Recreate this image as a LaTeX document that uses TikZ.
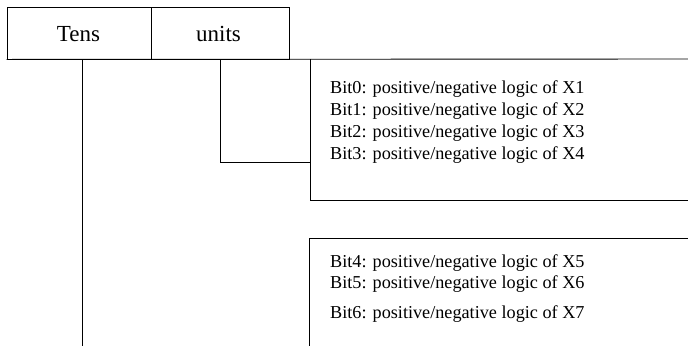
\documentclass[tikz,border=0pt]{standalone}
\usepackage{fontspec}
\setmainfont{Liberation Serif}
\begin{document}
\begin{tikzpicture}[x=1pt,y=-1pt,
  line/.style={draw=black,line width=0.9pt},
  cell/.style={line,minimum height=52pt,inner sep=0pt},
  head/.style={anchor=base,inner sep=0pt,font=\fontsize{23}{26}\selectfont},
  bit/.style={anchor=base west,inner sep=0pt,font=\fontsize{18.2}{21}\selectfont}]
\useasboundingbox (0,0) rectangle (688,346);
% header cells
\node[cell,minimum width=144pt] (tens) at (79,33) {};
\node[cell,minimum width=138pt] (units) at (220,33) {};
\node[head] (tenstxt) at (78.5,41) {Tens};
\node[head] (unitstxt) at (218.5,41) {units};
% coordinates
\coordinate (rtop) at (688,59);
\coordinate (tensdown) at (82,59);
\coordinate (tensend) at (82,346);
\coordinate (unitsdown) at (220,59);
\coordinate (elbow) at (220,162);
\coordinate (b1join) at (310,162);
\coordinate (b1tl) at (310,59);
\coordinate (b1bl) at (310,200);
\coordinate (b1br) at (688,200);
\coordinate (b2tl) at (309,238);
\coordinate (b2tr) at (688,238);
\coordinate (b2bl) at (309,346);
% long rule under the header
\draw[line] (tens.south west) -- (rtop);
% tens branch
\draw[line] (tensdown) -- (tensend);
% units branch
\draw[line] (unitsdown) -- (elbow) -- (b1join);
% box 1
\draw[line] (b1tl) -- (b1bl) -- (b1br);
% box 2
\draw[line] (b2tr) -- (b2tl) -- (b2bl);
% texts
\node[bit] (t0) at (330,93) {Bit0: positive/negative logic of X1};
\node[bit] (t1) at (330,115) {Bit1: positive/negative logic of X2};
\node[bit] (t2) at (330,137) {Bit2: positive/negative logic of X3};
\node[bit] (t3) at (330,159) {Bit3: positive/negative logic of X4};
\node[bit] (t4) at (330,267) {Bit4: positive/negative logic of X5};
\node[bit] (t5) at (330,288) {Bit5: positive/negative logic of X6};
\node[bit] (t6) at (330,318) {Bit6: positive/negative logic of X7};
\end{tikzpicture}
\end{document}
